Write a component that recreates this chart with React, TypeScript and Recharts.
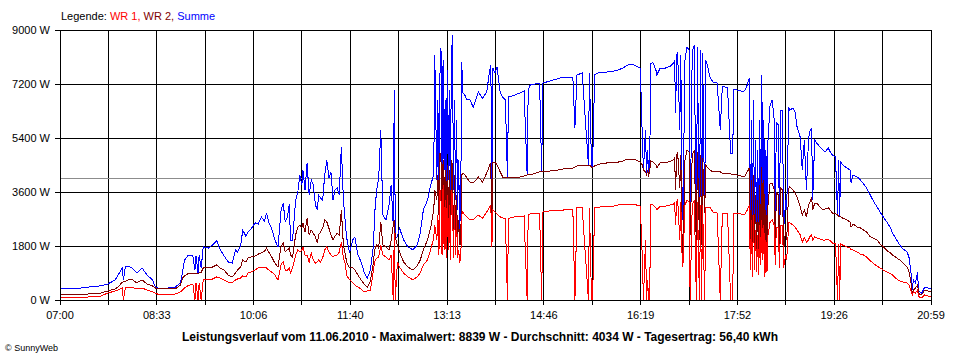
import React from 'react';
import { LineChart, Line, XAxis, YAxis, CartesianGrid, ReferenceLine } from 'recharts';

// minutes after 07:00
const minutes = [
  0, 14, 27, 39, 46, 53, 56, 60, 61, 63,
  66, 69, 74, 79, 84, 89, 92, 94, 104, 111,
  116, 118, 120, 123, 128, 130, 131, 133, 134, 136,
  138, 143, 147, 151, 154, 158, 162, 166, 169, 171,
  174, 176, 179, 181, 184, 188, 191, 194, 197, 199,
  201, 204, 207, 210, 213, 215, 217, 219, 221, 222,
  224, 227, 229, 231, 233, 234, 236, 238, 240, 242,
  244, 246, 248, 249, 251, 253, 255, 257, 259, 261,
  263, 265, 267, 269, 271, 273, 275, 276, 279, 282,
  284, 287, 290, 293, 296, 299, 302, 303, 305, 307,
  309, 311, 314, 317, 319, 321, 322, 323, 325, 327,
  331, 335, 340, 344, 347, 350, 354, 357, 360, 361,
  363, 364, 365, 366, 367, 368, 369, 370, 371, 372,
  373, 374, 375, 376, 377, 378, 379, 380, 381, 382,
  383, 384, 385, 386, 387, 388, 390, 392, 395, 398,
  401, 403, 407, 411, 414, 415, 416, 417, 419, 421,
  424, 427, 429, 431, 432, 433, 438, 443, 447, 450,
  451, 453, 458, 462, 464, 465, 472, 479, 485, 489,
  494, 496, 498, 503, 509, 510, 512, 513, 515, 520,
  527, 533, 538, 542, 547, 551, 555, 559, 561, 562,
  564, 565, 566, 567, 568, 569, 571, 574, 575, 578,
  583, 588, 591, 592, 593, 594, 595, 597, 598, 599,
  600, 602, 604, 606, 607, 609, 611, 613, 614, 616,
  617, 618, 619, 621, 622, 624, 626, 629, 633, 636,
  638, 643, 646, 648, 649, 652, 656, 658, 660, 662,
  664, 665, 666, 667, 668, 669, 670, 671, 672, 673,
  674, 675, 676, 677, 678, 679, 680, 681, 682, 684,
  686, 688, 689, 690, 692, 693, 694, 696, 697, 699,
  700, 702, 703, 706, 708, 710, 713, 715, 717, 719,
  721, 722, 724, 725, 727, 729, 732, 735, 737, 740,
  742, 744, 747, 749, 750, 751, 752, 754, 758, 761,
  762, 764, 768, 771, 774, 777, 780, 783, 787, 790,
  793, 797, 800, 802, 806, 809, 812, 816, 818, 820,
  821, 822, 824, 826, 827, 828, 830, 833, 836, 839,
];

// Summe (W)
const summe = [
  370, 370, 430, 470, 530, 670, 830, 1070, 670, 1100,
  1130, 1070, 900, 1070, 830, 670, 430, 400, 400, 430,
  570, 930, 1330, 1470, 1470, 1000, 1470, 900, 1500, 1070,
  1770, 1730, 1830, 1970, 1700, 1470, 1270, 1230, 1670, 1600,
  1800, 2330, 2130, 2270, 2370, 2570, 2530, 2770, 2630, 2900,
  2600, 2370, 2000, 1770, 3000, 3230, 2600, 2770, 3200, 2000,
  2000, 3330, 3570, 4170, 3830, 4330, 3670, 4570, 3500, 4000,
  3830, 3170, 3000, 3500, 3400, 3330, 4170, 4670, 4070, 4270,
  3330, 3670, 3730, 3500, 5100, 3330, 2500, 2100, 1570, 2000,
  2100, 1500, 1270, 930, 730, 1000, 1830, 2830, 3670, 4070,
  5670, 2830, 2670, 3170, 3830, 2500, 7000, 2070, 2100, 2400,
  2000, 1770, 1670, 1830, 2230, 3000, 3330, 3830, 4170, 8170,
  4000, 6670, 3330, 7500, 8400, 3670, 8000, 4330, 6670, 3000,
  7670, 4000, 7000, 3330, 8000, 8830, 3670, 6670, 3330, 6000,
  3000, 4670, 2330, 3330, 7930, 6900, 6830, 6670, 6670, 6430,
  6730, 6930, 6730, 6930, 7670, 7830, 4000, 7730, 7570, 7770,
  6930, 6730, 6670, 4100, 6770, 6770, 6830, 6900, 6970, 4170,
  7000, 7170, 7200, 7230, 4270, 7230, 7300, 7370, 7430, 7400,
  7430, 5730, 7500, 7570, 4500, 7570, 4430, 4430, 7500, 7600,
  7600, 7630, 7670, 7730, 7830, 7870, 7800, 7730, 5330, 4330,
  5670, 4170, 5000, 4170, 4270, 7870, 7930, 7670, 7500, 7730,
  7730, 7800, 7900, 8000, 6230, 8170, 8230, 5670, 8170, 4000,
  2670, 8000, 8430, 8330, 2170, 8270, 8500, 1670, 8430, 2000,
  8330, 1830, 8230, 2900, 8000, 7770, 7430, 7270, 7230, 5670,
  7130, 7070, 4900, 4900, 7030, 7000, 6970, 6930, 7000, 7170,
  7400, 2000, 6000, 1900, 6670, 2330, 5330, 2170, 5000, 2500,
  6000, 2670, 7500, 3330, 6000, 1900, 5000, 2330, 5330, 6500,
  6670, 6000, 2500, 5900, 5830, 2330, 6330, 6330, 2330, 3330,
  3000, 6430, 6330, 6400, 6270, 5770, 5430, 4330, 5330, 3670,
  5330, 5600, 5730, 3330, 5330, 5230, 5100, 5000, 4930, 5070,
  4930, 4830, 4770, 2830, 4670, 2770, 4600, 4500, 4400, 4330,
  3900, 4170, 4100, 4000, 3870, 3730, 3530, 3330, 3100, 2930,
  2770, 2570, 2400, 2230, 2000, 1830, 1700, 1600, 1400, 830,
  330, 670, 570, 930, 330, 270, 230, 430, 400, 370,
];

// WR 2 (W)
const wr2 = [
  200, 200, 200, 230, 300, 370, 430, 600, 600, 630,
  670, 700, 570, 670, 530, 470, 400, 370, 370, 370,
  500, 730, 800, 870, 870, 870, 870, 870, 900, 930,
  1070, 1070, 1100, 1170, 1070, 1000, 830, 770, 900, 1000,
  1100, 1330, 1270, 1400, 1430, 1470, 1530, 1570, 1630, 1730,
  1600, 1430, 1230, 1100, 1800, 1900, 1600, 1670, 1730, 1500,
  1430, 2170, 2430, 2500, 2400, 2570, 2270, 2730, 2170, 2330,
  2230, 2100, 1900, 2170, 2270, 2400, 2670, 2600, 2400, 2170,
  2000, 2130, 2230, 2170, 3000, 1830, 1500, 1270, 1070, 1070,
  1000, 830, 670, 530, 430, 630, 1270, 1670, 1830, 1730,
  2600, 1830, 1770, 1670, 2000, 2500, 2670, 2070, 1830, 1600,
  1270, 1100, 1000, 1130, 1330, 1670, 2000, 2400, 3000, 3670,
  3330, 4170, 2830, 4900, 4670, 2000, 4670, 2670, 4330, 1830,
  4500, 2330, 4330, 1830, 4670, 4500, 2000, 4170, 2170, 3500,
  2000, 2670, 1830, 1900, 4170, 4230, 4170, 4070, 3930, 3900,
  4000, 4100, 3930, 4230, 4500, 4570, 1770, 4600, 4600, 4500,
  4270, 4070, 4070, 4070, 4070, 4070, 4100, 4100, 4130, 4170,
  4170, 4170, 4230, 4270, 4270, 4270, 4300, 4330, 4370, 4400,
  4400, 4430, 4470, 4500, 4500, 4500, 4430, 4430, 4470, 4530,
  4570, 4600, 4600, 4630, 4700, 4700, 4670, 4600, 4500, 4330,
  4270, 4170, 4330, 4170, 4270, 4630, 4600, 4500, 4400, 4570,
  4570, 4630, 4670, 4730, 3670, 4830, 4900, 3730, 4830, 2330,
  1430, 4670, 5000, 4930, 2170, 4830, 5000, 1670, 4930, 2000,
  4830, 1830, 4730, 2900, 4500, 4400, 4330, 4270, 4270, 4270,
  4230, 4230, 4200, 4200, 4170, 4170, 4130, 4100, 4130, 4270,
  4400, 1270, 4000, 1170, 4170, 1670, 3500, 1500, 3330, 1330,
  3830, 1670, 4430, 2000, 4000, 1000, 3000, 1170, 3170, 3900,
  3900, 3670, 1500, 3570, 3500, 1670, 3730, 3670, 1670, 2330,
  2000, 3730, 3770, 3670, 3570, 3430, 3100, 2830, 3000, 2770,
  3170, 3230, 3430, 3000, 3230, 3230, 3100, 3000, 3030, 3070,
  3000, 2900, 2870, 2830, 2800, 2770, 2770, 2730, 2670, 2600,
  2430, 2530, 2430, 2400, 2330, 2270, 2130, 2070, 2000, 1870,
  1770, 1630, 1570, 1500, 1400, 1330, 1230, 1100, 930, 500,
  230, 330, 400, 500, 270, 170, 170, 330, 300, 300,
];

// WR 1 (W)
const wr1 = [
  100, 100, 100, 130, 230, 300, 330, 400, 0, 400,
  430, 430, 370, 400, 330, 270, 230, 200, 200, 200,
  270, 330, 400, 470, 530, 0, 570, 0, 570, 0,
  670, 670, 700, 770, 730, 670, 600, 570, 670, 700,
  730, 800, 770, 900, 930, 1000, 1070, 1100, 1100, 1070,
  1000, 930, 830, 670, 1200, 1270, 1000, 1000, 1070, 900,
  1070, 1500, 1670, 1600, 1670, 1770, 1500, 1500, 1270, 1570,
  1330, 1230, 1270, 1330, 1270, 1400, 1670, 1770, 1600, 1500,
  1430, 1500, 1500, 1600, 1930, 1400, 1170, 830, 670, 570,
  500, 430, 370, 270, 300, 330, 1000, 1270, 1400, 1430,
  1830, 1500, 1430, 1330, 1500, 0, 2230, 0, 1270, 1100,
  900, 770, 670, 770, 900, 1170, 1330, 1670, 2070, 2500,
  2000, 2830, 1500, 3670, 3330, 1500, 3830, 1670, 3330, 1400,
  3500, 1670, 3170, 1330, 3670, 3500, 1400, 3170, 1500, 2830,
  1400, 1670, 1270, 1330, 2830, 2930, 2830, 2770, 2670, 2670,
  2770, 2830, 2730, 2930, 3100, 3170, 1770, 3000, 2930, 2870,
  2770, 2730, 2730, 0, 2730, 2730, 2770, 2770, 2800, 0,
  2830, 2870, 2900, 2900, 0, 2930, 2970, 3000, 3000, 3030,
  3030, 0, 3070, 3070, 0, 3070, 0, 0, 3100, 3100,
  3130, 3130, 3170, 3170, 3200, 3200, 3170, 3130, 1330, 0,
  2000, 0, 670, 0, 0, 3170, 3170, 3070, 3000, 3130,
  3130, 3170, 3200, 3230, 2500, 3270, 3330, 2000, 3270, 1670,
  1100, 3170, 3330, 3270, 0, 3170, 3330, 0, 3270, 0,
  3170, 0, 3170, 0, 3070, 3100, 3100, 2930, 2900, 0,
  2900, 2900, 0, 0, 2900, 2900, 2870, 2830, 2870, 3000,
  3170, 1000, 2670, 770, 2830, 1000, 2330, 930, 2170, 830,
  2500, 1170, 2670, 1330, 2500, 770, 2000, 930, 2170, 2600,
  2670, 2500, 1170, 2430, 2400, 1070, 2500, 2500, 1070, 1500,
  1330, 2570, 2570, 2500, 2430, 2330, 2170, 1930, 2070, 1930,
  2000, 2100, 2170, 2000, 2100, 2070, 2030, 2000, 2000, 2030,
  1970, 1900, 1900, 0, 1870, 0, 1870, 1830, 1770, 1730,
  1670, 1670, 1600, 1530, 1500, 1430, 1330, 1230, 1130, 1070,
  1000, 930, 870, 830, 700, 630, 600, 570, 500, 270,
  170, 270, 230, 330, 130, 100, 70, 170, 130, 100,
];

const timeLabels = ['07:00', '08:33', '10:06', '11:40', '13:13', '14:46', '16:19', '17:52', '19:26', '20:59'];
const powerTicks = [0, 1800, 3600, 5400, 7200, 9000];
const average = 4034;
const dayLength = 839;

const font = 'Liberation Sans, Arial, sans-serif';

const data = minutes.map((m, i) => ({ m, wr1: wr1[i], wr2: wr2[i], summe: summe[i] }));

// grid every half label step
const xTicks = Array.from({ length: timeLabels.length * 2 - 1 }, (_, i) => (i * dayLength) / ((timeLabels.length - 1) * 2));

export default function App() {
  return (
    <div style={{ position: 'absolute', left: 0, top: 0, width: 960, height: 360, background: '#fff', fontFamily: font }}>
      <style>{`
        .recharts-cartesian-grid line, .recharts-cartesian-axis-line, .recharts-cartesian-axis-tick-line, .recharts-reference-line line { shape-rendering: crispEdges; }
        .recharts-line-curve { shape-rendering: crispEdges; }
      `}</style>
      <div style={{ position: 'absolute', left: 61, top: 10, fontSize: 11, lineHeight: '13px', whiteSpace: 'nowrap' }}>
        <span style={{ color: '#000' }}>Legende: </span>
        <span style={{ color: '#ff0000' }}>WR 1, </span>
        <span style={{ color: '#800000' }}>WR 2, </span>
        <span style={{ color: '#0000ff' }}>Summe</span>
      </div>
      <LineChart width={960} height={360} data={data} margin={{ top: 30, right: 29, bottom: 30, left: 0 }}>
        <CartesianGrid stroke='#000' strokeWidth={1} />
        <XAxis
          dataKey='m'
          type='number'
          domain={[0, dayLength]}
          ticks={xTicks}
          interval={0}
          height={30}
          tickSize={5}
          tickMargin={6}
          axisLine={{ stroke: '#000' }}
          tickLine={{ stroke: '#000' }}
          tick={{ fill: '#000', fontSize: 11, fontFamily: font }}
          tickFormatter={(_v: number, i: number) => (i % 2 === 0 ? timeLabels[i / 2] : '')}
        />
        <YAxis
          type='number'
          domain={[0, 9000]}
          ticks={powerTicks}
          width={60}
          tickSize={5}
          tickMargin={5}
          axisLine={{ stroke: '#000' }}
          tickLine={{ stroke: '#000' }}
          tick={{ fill: '#000', fontSize: 11, fontFamily: font }}
          tickFormatter={(v: number) => `${v} W`}
        />
        <ReferenceLine y={average} stroke='#8c8c8c' strokeWidth={1} />
        <Line dataKey='summe' type='linear' stroke='#0000ff' strokeWidth={1} dot={false} isAnimationActive={false} />
        <Line dataKey='wr2' type='linear' stroke='#800000' strokeWidth={1} dot={false} isAnimationActive={false} />
        <Line dataKey='wr1' type='linear' stroke='#ff0000' strokeWidth={1} dot={false} isAnimationActive={false} />
      </LineChart>
      <div style={{ position: 'absolute', left: 0, width: 960, top: 330, textAlign: 'center', fontSize: 12, lineHeight: '14px', fontWeight: 'bold' }}>
        Leistungsverlauf vom 11.06.2010 - Maximalwert: 8839 W - Durchschnitt: 4034 W - Tagesertrag: 56,40 kWh
      </div>
      <div style={{ position: 'absolute', left: 5, top: 343, fontSize: 9, lineHeight: '11px' }}>© SunnyWeb</div>
    </div>
  );
}
